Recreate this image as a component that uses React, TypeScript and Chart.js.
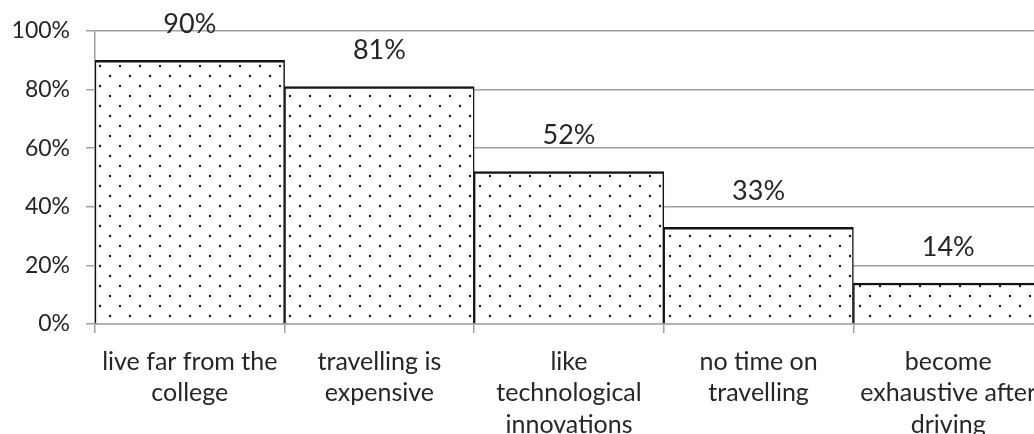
import React, { useEffect, useRef } from "react";
import { Chart, registerables } from "chart.js";

Chart.register(...registerables);

const categories: string[][] = [
  ["live far from the", "college"],
  ["travelling is", "expensive"],
  ["like", "technological", "innovations"],
  ["no time on", "travelling"],
  ["become", "exhaustive after", "driving"],
];
const values: number[] = [90, 81, 52, 33, 14];
const yTickStep = 20;
const yMax = 100;

const TEXT = "#262626";
const GRID = "#a0a0a0";
const FONT = "Lato";

function makeDotPattern(): CanvasPattern | string {
  const c = document.createElement("canvas");
  c.width = 20;
  c.height = 20;
  const g = c.getContext("2d");
  if (!g) return "#fff";
  g.fillStyle = "#ffffff";
  g.fillRect(0, 0, 20, 20);
  g.fillStyle = "#141414";
  const dots = [
    [0, 6],
    [20, 6],
    [10, 16],
  ];
  for (const [x, y] of dots) {
    g.beginPath();
    g.arc(x, y, 1.2, 0, Math.PI * 2);
    g.fill();
  }
  const p = g.createPattern(c, "repeat");
  return p || "#fff";
}

const labelPlugin = {
  id: "barValueLabels",
  afterDatasetsDraw(chart: any) {
    const ctx = chart.ctx;
    const meta = chart.getDatasetMeta(0);
    ctx.save();
    ctx.fillStyle = TEXT;
    ctx.font = `27px ${FONT}`;
    ctx.textAlign = "center";
    ctx.textBaseline = "middle";
    meta.data.forEach((bar: any, i: number) => {
      ctx.fillText(values[i] + "%", bar.x, bar.y - 36);
    });
    ctx.restore();
  },
};

export default function App() {
  const ref = useRef<HTMLCanvasElement | null>(null);

  useEffect(() => {
    if (!ref.current) return;
    const chart = new Chart(ref.current, {
      type: "bar",
      data: {
        labels: categories,
        datasets: [
          {
            data: values,
            backgroundColor: makeDotPattern() as any,
            borderColor: "#141414",
            borderWidth: { top: 2.5, left: 1.5, right: 1.5, bottom: 0 } as any,
            borderSkipped: "start",
            barPercentage: 1,
            categoryPercentage: 1,
          },
        ],
      },
      options: {
        responsive: false,
        animation: false,
        devicePixelRatio: 1,
        layout: { padding: { top: 31, right: 17, bottom: 0, left: 0 } },
        plugins: {
          legend: { display: false },
          tooltip: { enabled: false },
        },
        scales: {
          x: {
            grid: {
              drawOnChartArea: false,
              drawTicks: true,
              tickLength: 9,
              offset: true,
              color: GRID,
              lineWidth: 1.5,
            },
            border: { color: GRID, width: 1.5 },
            ticks: {
              color: TEXT,
              font: { family: FONT, size: 25, lineHeight: 1.26 },
              padding: 13,
              maxRotation: 0,
              minRotation: 0,
              autoSkip: false,
            },
            afterFit: (s: any) => {
              s.height = 120;
            },
          },
          y: {
            min: 0,
            max: yMax,
            ticks: {
              stepSize: yTickStep,
              callback: (v: any) => v + "%",
              padding: 16,
              color: TEXT,
              font: { family: FONT, size: 23 },
            },
            grid: { color: GRID, lineWidth: 1.5, tickLength: 9 },
            border: { color: GRID, width: 1.5 },
            afterFit: (s: any) => {
              s.width = 95;
            },
          },
        },
      },
      plugins: [labelPlugin],
    });
    return () => chart.destroy();
  }, []);

  return (
    <div
      style={{
        position: "fixed",
        left: 0,
        top: 0,
        width: 1034,
        height: 434,
        overflow: "hidden",
        background: "#fff",
      }}
    >
      <canvas ref={ref} width={1060} height={444} style={{ display: "block" }} />
    </div>
  );
}
